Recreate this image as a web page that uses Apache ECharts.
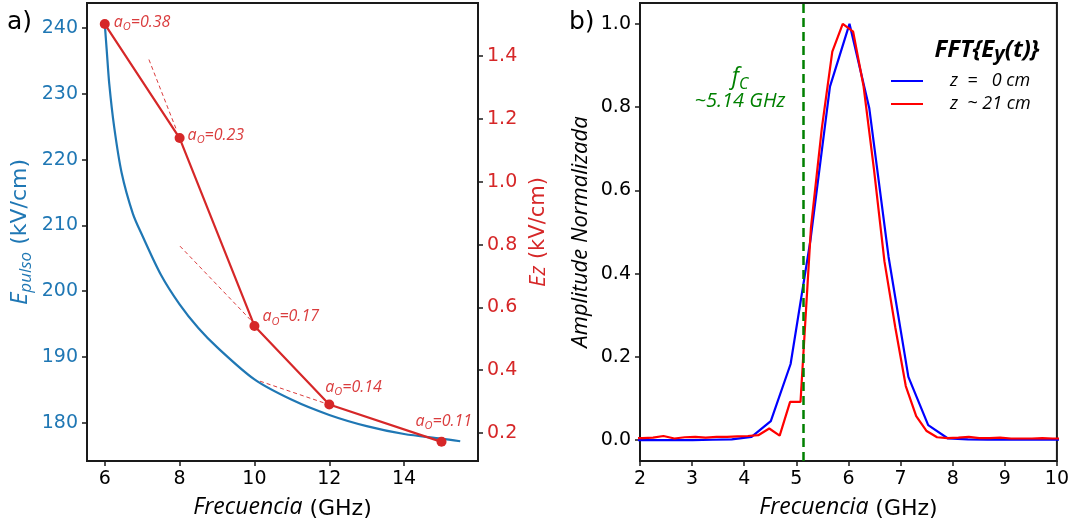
<!DOCTYPE html>
<html>
<head>
<meta charset="utf-8">
<script src="https://cdn.jsdelivr.net/npm/echarts@6.0.0/dist/echarts.min.js"></script>
<style>
  html, body { margin: 0; padding: 0; background: #fff; }
  #chart { width: 1072px; height: 527px; }
</style>
</head>
<body>
<div id="chart"></div>
<script>
// Panel a): pulse amplitude curve (left axis) and Ez at selected frequencies (right axis)
const pulseFreq = [6.0, 6.05, 6.12, 6.25, 6.45, 6.75, 7.0, 7.5, 8.0, 8.5, 9.0, 10, 11, 12, 13, 14, 15, 15.5];
const pulseE    = [240.6, 236.8, 231.5, 225.0, 218.0, 211.8, 208.5, 202.5, 198.0, 194.4, 191.5, 186.6, 183.5, 181.2, 179.5, 178.3, 177.6, 177.2];

const ezFreq  = [6, 8, 10, 12, 15];
const ezValue = [1.502, 1.139, 0.541, 0.291, 0.172];
const aoValue = ['0.38', '0.23', '0.17', '0.14', '0.11'];

// short local slope segments drawn next to the Ez points
const slopeFreq = [[7.18, 7.90], [8.01, 9.89], [10.15, 11.86]];
const slopeEz   = [[1.389, 1.170], [0.795, 0.561], [0.365, 0.296]];

const ticksA_x     = [6, 8, 10, 12, 14];
const ticksA_pulse = [180, 190, 200, 210, 220, 230, 240];
const ticksA_ez    = [0.2, 0.4, 0.6, 0.8, 1.0, 1.2, 1.4];

// Panel b): normalized FFT amplitude at two positions
const freqZ0  = [1.88, 2.26, 2.63, 3.01, 3.39, 3.76, 4.14, 4.51, 4.89, 5.27, 5.645, 6.02, 6.40, 6.77, 7.15, 7.53, 7.91, 8.29, 8.67, 9.04, 9.42, 9.80, 10.18];
const ampZ0   = [0.0, 0.0, 0.0, 0.0, 0.001, 0.002, 0.008, 0.046, 0.183, 0.48, 0.849, 1.0, 0.797, 0.44, 0.152, 0.036, 0.004, 0.002, 0.001, 0.001, 0.001, 0.001, 0.001];

const freqZ21 = [1.85, 2.05, 2.25, 2.45, 2.66, 2.86, 3.06, 3.26, 3.47, 3.67, 3.87, 4.07, 4.27, 4.48, 4.68, 4.88, 5.08, 5.28, 5.49, 5.69, 5.89, 6.09, 6.29, 6.49, 6.69, 6.90, 7.10, 7.30, 7.50, 7.70, 7.90, 8.11, 8.31, 8.51, 8.71, 8.91, 9.12, 9.32, 9.52, 9.72, 9.92, 10.13];
const ampZ21  = [0.005, 0.005, 0.006, 0.010, 0.004, 0.007, 0.008, 0.006, 0.008, 0.008, 0.009, 0.010, 0.012, 0.028, 0.011, 0.092, 0.092, 0.51, 0.75, 0.933, 1.0, 0.981, 0.85, 0.65, 0.43, 0.27, 0.13, 0.058, 0.022, 0.007, 0.005, 0.006, 0.008, 0.005, 0.005, 0.006, 0.004, 0.004, 0.004, 0.005, 0.004, 0.004];

const cutoffFreq = 5.14;
const ticksB_y = [0, 0.2, 0.4, 0.6, 0.8, 1.0];

const seriesNames = ['z  =   0 cm', 'z  ~ 21 cm'];

const C_BLUE = '#1f77b4';
const C_RED = '#d62728';
const TICK_FONT = 'DejaVu Sans';
const ITAL_FONT = 'Open Sans';

const zip = (xs, ys) => xs.map((x, i) => [x, ys[i]]);

const tickStyle = { show: true, length: 5, inside: false, lineStyle: { color: '#1a1a1a', width: 1.5 } };
const hiddenLine = { show: false, onZero: false };

function labelStyle(color, fmt) {
  return { color: color, fontFamily: TICK_FONT, fontSize: 19, margin: 9, formatter: fmt };
}

const freqName = {
  name: '{i|Frecuencia}{n| (GHz)}', nameLocation: 'middle', nameGap: 35,
  nameTextStyle: {
    rich: {
      i: { fontFamily: ITAL_FONT, fontStyle: 'italic', fontSize: 23, color: '#000', padding: [0, 0, 4, 0] },
      n: { fontFamily: TICK_FONT, fontSize: 22, color: '#000' }
    }
  }
};

// per-point label placement for the a_O annotations (pixel offsets)
const aoOffsets = [[0, -2], [-1, -3], [-1, -9], [-13, -17], [-35, -20]];
const aoRich = {
  a: { fontFamily: ITAL_FONT, fontStyle: 'italic', fontSize: 16, color: C_RED, lineHeight: 22, verticalAlign: 'middle' },
  s: { fontFamily: ITAL_FONT, fontStyle: 'italic', fontSize: 11, color: C_RED, lineHeight: 22, verticalAlign: 'bottom', padding: [0, 0, 1, 0] }
};

const ezData = ezFreq.map((f, i) => ({
  value: [f, ezValue[i]],
  label: {
    show: true,
    position: 'right',
    distance: 4,
    offset: aoOffsets[i],
    formatter: '{a|a}{s|O}{a|=' + aoValue[i] + '}',
    rich: aoRich,
    opacity: 0.9
  }
}));

const slopeSeries = slopeFreq.map((fs, k) => ({
  type: 'line',
  xAxisIndex: 0,
  yAxisIndex: 1,
  data: zip(fs, slopeEz[k]),
  showSymbol: false,
  silent: true,
  lineStyle: { color: C_RED, width: 1, type: [4, 3], opacity: 0.9 },
  z: 2
}));

const chart = echarts.init(document.getElementById('chart'), null, { renderer: 'canvas' });

const option = {
  animation: false,
  backgroundColor: '#fff',
  grid: [
    { left: 87, top: 3, width: 391, height: 458, show: true, borderColor: '#1a1a1a', borderWidth: 2, backgroundColor: 'transparent', containLabel: false },
    { left: 640, top: 3, width: 417, height: 458, show: true, borderColor: '#1a1a1a', borderWidth: 2, backgroundColor: 'transparent', containLabel: false }
  ],
  xAxis: [
    Object.assign({
      type: 'value', gridIndex: 0, min: 5.525, max: 15.975,
      axisLine: hiddenLine, splitLine: { show: false },
      axisTick: Object.assign({}, tickStyle, { customValues: ticksA_x }),
      axisLabel: Object.assign(labelStyle('#000', v => String(v)), { customValues: ticksA_x })
    }, freqName),
    Object.assign({
      type: 'value', gridIndex: 1, min: 2, max: 10, interval: 1,
      axisLine: hiddenLine, splitLine: { show: false },
      axisTick: tickStyle,
      axisLabel: labelStyle('#000', v => String(v))
    }, freqName)
  ],
  yAxis: [
    {
      type: 'value', gridIndex: 0, position: 'left', min: 174.2, max: 243.8,
      axisLine: hiddenLine, splitLine: { show: false },
      axisTick: Object.assign({}, tickStyle, { customValues: ticksA_pulse }),
      axisLabel: Object.assign(labelStyle(C_BLUE, v => String(v)), { customValues: ticksA_pulse }),
      name: '{e|E}{s|pulso}{n| (kV/cm)}', nameLocation: 'middle', nameGap: 51, nameRotate: 90,
      nameTextStyle: {
        rich: {
          e: { fontFamily: ITAL_FONT, fontStyle: 'italic', fontSize: 24, color: C_BLUE, lineHeight: 32, verticalAlign: 'middle' },
          s: { fontFamily: ITAL_FONT, fontStyle: 'italic', fontSize: 17, color: C_BLUE, lineHeight: 32, verticalAlign: 'bottom', padding: [0, 0, 1, 0] },
          n: { fontFamily: TICK_FONT, fontSize: 22, color: C_BLUE, lineHeight: 32, verticalAlign: 'middle' }
        }
      }
    },
    {
      type: 'value', gridIndex: 0, position: 'right', min: 0.111, max: 1.569,
      axisLine: hiddenLine, splitLine: { show: false },
      axisTick: Object.assign({}, tickStyle, { customValues: ticksA_ez }),
      axisLabel: Object.assign(labelStyle(C_RED, v => v.toFixed(1)), { customValues: ticksA_ez }),
      name: '{e|Ez}{n| (kV/cm)}', nameLocation: 'middle', nameGap: 50, nameRotate: 90,
      nameTextStyle: {
        rich: {
          e: { fontFamily: ITAL_FONT, fontStyle: 'italic', fontSize: 22, color: C_RED },
          n: { fontFamily: TICK_FONT, fontSize: 21, color: C_RED }
        }
      }
    },
    {
      type: 'value', gridIndex: 1, min: -0.05, max: 1.05,
      axisLine: hiddenLine, splitLine: { show: false },
      axisTick: Object.assign({}, tickStyle, { customValues: ticksB_y }),
      axisLabel: Object.assign(labelStyle('#000', v => v.toFixed(1)), { customValues: ticksB_y }),
      name: 'Amplitude Normalizada', nameLocation: 'middle', nameGap: 48, nameRotate: 90,
      nameTextStyle: { fontFamily: ITAL_FONT, fontStyle: 'italic', fontSize: 22, color: '#000' }
    }
  ],
  legend: {
    orient: 'vertical',
    left: 886, top: 66,
    itemWidth: 32, itemHeight: 12, itemGap: 3,
    icon: 'path://M0,5 L32,5 L32,7 L0,7 Z',
    data: seriesNames,
    textStyle: { fontFamily: ITAL_FONT, fontStyle: 'italic', fontSize: 18, color: '#000', lineHeight: 20, padding: [0, 0, 0, 22] },
    selectedMode: false
  },
  series: [
    {
      type: 'line', xAxisIndex: 0, yAxisIndex: 0,
      data: zip(pulseFreq, pulseE),
      smooth: 0.3,
      showSymbol: false, silent: true,
      lineStyle: { color: C_BLUE, width: 2.2 },
      z: 3
    },
    ...slopeSeries,
    {
      type: 'line', xAxisIndex: 0, yAxisIndex: 1,
      data: ezData,
      symbol: 'circle', symbolSize: 10, showSymbol: true,
      itemStyle: { color: C_RED },
      lineStyle: { color: C_RED, width: 2.2 },
      silent: true,
      z: 4
    },
    {
      name: seriesNames[0],
      type: 'line', xAxisIndex: 1, yAxisIndex: 2,
      data: zip(freqZ0, ampZ0),
      showSymbol: false, silent: true,
      itemStyle: { color: '#0000ff' },
      lineStyle: { color: '#0000ff', width: 2.2 },
      z: 3
    },
    {
      name: seriesNames[1],
      type: 'line', xAxisIndex: 1, yAxisIndex: 2,
      data: zip(freqZ21, ampZ21),
      showSymbol: false, silent: true,
      itemStyle: { color: '#ff0000' },
      lineStyle: { color: '#ff0000', width: 2.2 },
      z: 4,
      markLine: {
        silent: true, symbol: 'none',
        label: { show: false },
        lineStyle: { color: '#008000', type: [9, 5], width: 2.5 },
        data: [{ xAxis: cutoffFreq }]
      }
    }
  ],
  graphic: [
    { type: 'text', x: 7, y: 22, style: { text: 'a)', fontFamily: TICK_FONT, fontSize: 25, fill: '#000', verticalAlign: 'middle' } },
    { type: 'text', x: 569, y: 22, style: { text: 'b)', fontFamily: TICK_FONT, fontSize: 25, fill: '#000', verticalAlign: 'middle' } },
    {
      type: 'text', x: 740, y: 77,
      style: {
        text: '{f|f}{c|C}', align: 'center', verticalAlign: 'middle',
        rich: {
          f: { fontFamily: ITAL_FONT, fontStyle: 'italic', fontSize: 23, fill: '#008000', lineHeight: 30, verticalAlign: 'middle' },
          c: { fontFamily: ITAL_FONT, fontStyle: 'italic', fontSize: 16, fill: '#008000', lineHeight: 30, verticalAlign: 'bottom' }
        }
      }
    },
    {
      type: 'text', x: 740, y: 101,
      style: { text: '~' + cutoffFreq.toFixed(2) + ' GHz', align: 'center', verticalAlign: 'middle', fontFamily: ITAL_FONT, fontStyle: 'italic', fontSize: 20, fill: '#008000' }
    },
    {
      type: 'text', x: 987, y: 50,
      style: {
        // closing brace sits outside the rich tags so it is drawn literally
        text: '{b|FFT{E}{s|y}{b|(t)}}',
        align: 'center', verticalAlign: 'middle',
        fontFamily: ITAL_FONT, fontStyle: 'italic', fontWeight: 'bold', fontSize: 24, fill: '#000', lineHeight: 30,
        rich: {
          b: { fontFamily: ITAL_FONT, fontStyle: 'italic', fontWeight: 'bold', fontSize: 24, fill: '#000', lineHeight: 30, verticalAlign: 'middle' },
          s: { fontFamily: ITAL_FONT, fontStyle: 'italic', fontWeight: 'bold', fontSize: 20, fill: '#000', lineHeight: 30, verticalAlign: 'bottom', padding: [0, 0, 1, 0] }
        }
      }
    }
  ]
};

chart.setOption(option);
</script>
</body>
</html>
